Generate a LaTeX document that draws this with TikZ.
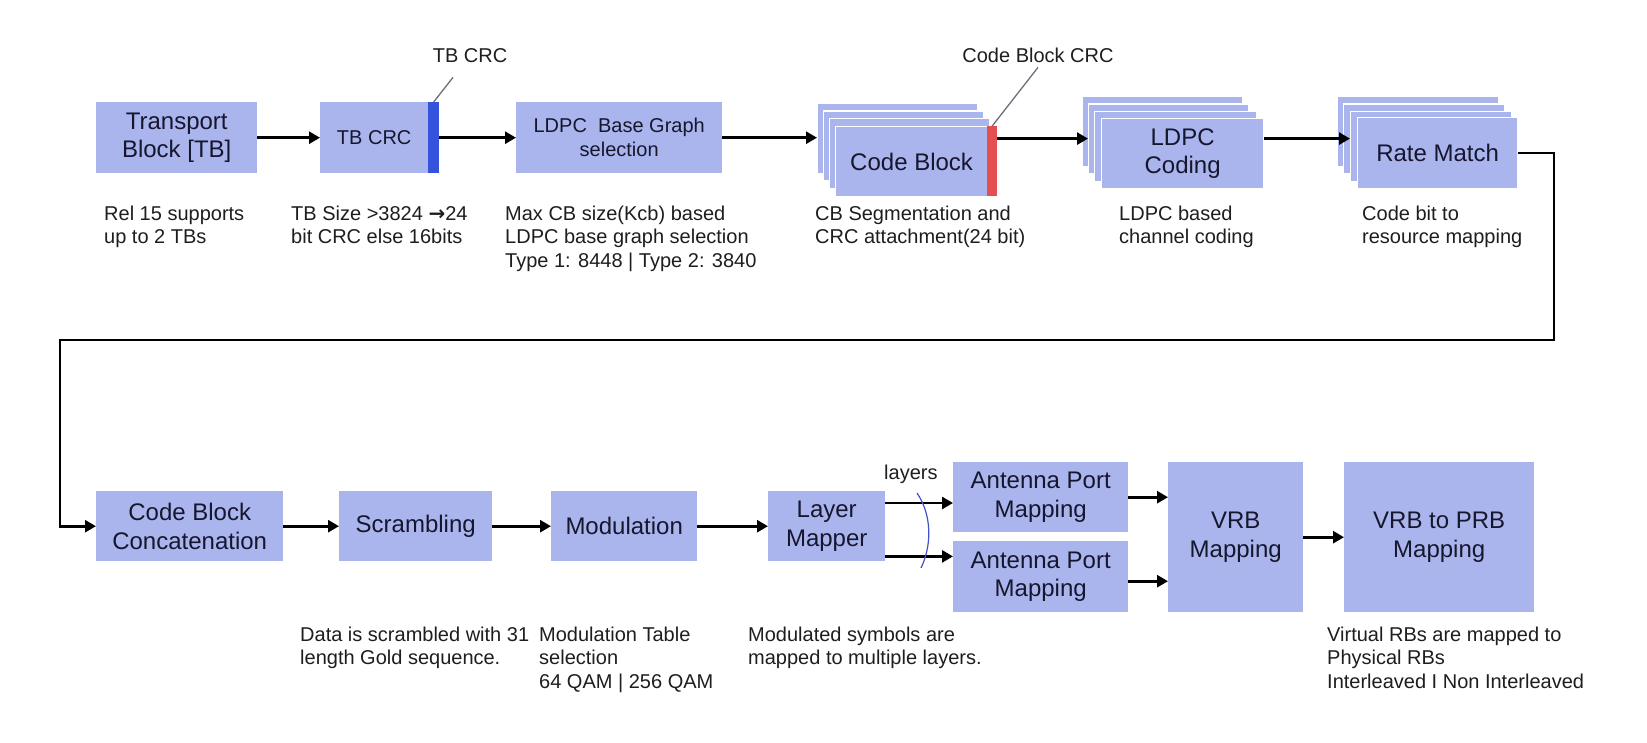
\documentclass[tikz,border=0pt]{standalone}
\usepackage{fontspec}
\setmainfont{Liberation Sans}
\newfontfamily\djv{DejaVu Sans}
\usetikzlibrary{arrows.meta,calc}
\definecolor{boxblue}{RGB}{170,181,238}
\definecolor{crcblue}{RGB}{52,82,220}
\definecolor{crcred}{RGB}{228,80,80}
\definecolor{leadgray}{RGB}{110,110,125}
\definecolor{boxtxt}{RGB}{22,22,45}
\definecolor{notetxt}{RGB}{30,30,30}
\definecolor{arcblue}{RGB}{70,80,200}
\newcommand\bxfont{\fontsize{24}{28.5}\selectfont}
\newcommand\sbxfont{\fontsize{20}{24}\selectfont}
\newcommand\ntfont{\fontsize{20}{23.5}\selectfont}
\begin{document}
\begin{tikzpicture}[x=1pt,y=-1pt,
  blk/.style={fill=boxblue, anchor=north west, inner sep=0pt, align=center, font=\bxfont, text=boxtxt},
  lyr/.style={blk, draw=white, line width=1.2pt},
  crcstrip/.style={anchor=north west, inner sep=0pt},
  wire/.style={line width=2.6pt, black},
  flowarrow/.style={wire, -{Triangle[length=11pt,width=12pt]}},
  note/.style={anchor=north west, inner sep=0pt, align=left, font=\ntfont, text=notetxt},
  lbl/.style={inner sep=0pt, font=\ntfont, text=notetxt},
  lead/.style={leadgray, line width=1.3pt},
]
\fill[white] (0,0) rectangle (1647,743);
\useasboundingbox (0,0) rectangle (1647,743);

% ---------- top row ----------
\node[blk, minimum width=161pt, minimum height=71pt] (tb) at (96,102) {Transport\\Block [TB]};
\node[blk, font=\sbxfont, minimum width=108pt, minimum height=71pt] (tbcrc) at (320,102) {TB CRC};
\node[crcstrip, fill=crcblue, minimum width=11pt, minimum height=71pt] (tbstrip) at (428,102) {};
\node[blk, font=\sbxfont, minimum width=206pt, minimum height=71pt] (ldpcb) at (516,102) {LDPC\ \ Base Graph\\selection};

\node[lyr, minimum width=160pt, minimum height=70pt] (cb1) at (817,103) {};
\node[lyr, minimum width=160pt, minimum height=70pt] (cb2) at (823,110.5) {};
\node[lyr, minimum width=160pt, minimum height=70pt] (cb3) at (829,118) {};
\node[lyr, minimum width=152pt, minimum height=70pt] (cb4) at (835,126) {Code Block};
\node[crcstrip, fill=crcred, minimum width=10pt, minimum height=70pt] (cbstrip) at (987,126) {};

\node[lyr, minimum width=160pt, minimum height=70pt] (lc1) at (1082,96) {};
\node[lyr, minimum width=160pt, minimum height=70pt] (lc2) at (1088,103.5) {};
\node[lyr, minimum width=162pt, minimum height=70pt] (lc3) at (1094,111) {};
\node[lyr, minimum width=162pt, minimum height=70pt] (lc4) at (1101,118) {LDPC\\Coding};

\node[lyr, minimum width=161pt, minimum height=70pt] (rm1) at (1337,96) {};
\node[lyr, minimum width=161pt, minimum height=70pt] (rm2) at (1343,103.5) {};
\node[lyr, minimum width=161pt, minimum height=70pt] (rm3) at (1350,111) {};
\node[lyr, minimum width=160pt, minimum height=71pt] (rm4) at (1357,117) {Rate Match};

\node[lbl, anchor=base] (tblabel) at (470,63) {TB CRC};
\node[lbl, anchor=base] (cblabel) at (1038,63) {Code Block CRC};
\draw[lead] (tbstrip.north) -- ([xshift=-17pt,yshift=-14pt]tblabel.south);
\draw[lead] (cbstrip.north) -- ([yshift=-4pt]cblabel.south);

\draw[flowarrow] (tb.east) -- (tbcrc.west);
\draw[flowarrow] (tbstrip.east) -- (ldpcb.west);
\draw[flowarrow] (ldpcb.east) -- (ldpcb.east -| cb1.west);
\draw[flowarrow] (cbstrip.east |- cb1.west) -- (lc2.west |- cb1.west);
\draw[flowarrow] (lc4.east |- cb1.west) -- (rm3.west |- cb1.west);

\node[note] (n1) at (104,203.5) {\strut Rel 15 supports\\up to 2 TBs};
\node[note] (n2) at (291,203.5) {\strut TB Size >3824 {\djv\bfseries →}24\\bit CRC else 16bits};
\node[note] (n3) at (505,203.5) {\strut Max CB size(Kcb) based\\LDPC base graph selection\\Type 1: 8448 | Type 2: 3840};
\node[note] (n4) at (815,203.5) {\strut CB Segmentation and\\CRC attachment(24 bit)};
\node[note] (n5) at (1119,203.5) {\strut LDPC based\\channel coding};
\node[note] (n6) at (1362,203.5) {\strut Code bit to\\resource mapping};

% ---------- bottom row ----------
\node[blk, minimum width=187pt, minimum height=70pt] (cbc) at (96,491) {Code Block\\Concatenation};
\node[blk, minimum width=153pt, minimum height=70pt] (scr) at (339,491) {Scrambling};
\node[blk, minimum width=146pt, minimum height=70pt] (mod) at (551,491) {Modulation};
\node[blk, minimum width=117pt, minimum height=70pt] (lm) at (768,491) {Layer\\Mapper};
\node[blk, minimum width=175pt, minimum height=70pt] (apm1) at (953,462) {Antenna Port\\Mapping};
\node[blk, minimum width=175pt, minimum height=71pt] (apm2) at (953,541) {Antenna Port\\Mapping};
\node[blk, minimum width=135pt, minimum height=150pt] (vrb) at (1168,462) {VRB\\Mapping};
\node[blk, minimum width=190pt, minimum height=150pt] (prb) at (1344,462) {VRB to PRB\\Mapping};

% feedback connector
\coordinate (r1) at (1554,340);
\coordinate (r2) at (60,340);
\draw[flowarrow] (rm4.east) -| (r1) -- (r2) |- (cbc.west);

\draw[flowarrow] (cbc.east) -- (scr.west);
\draw[flowarrow] (scr.east) -- (mod.west);
\draw[flowarrow] (mod.east) -- (lm.west);
\coordinate (lo1) at ($(lm.north east)+(0,12)$);
\coordinate (lo2) at ($(lm.south east)+(0,-5)$);
\draw[flowarrow] (lo1) -- (lo1 -| apm1.west);
\draw[flowarrow] (lo2) -- (lo2 -| apm2.west);
\draw[flowarrow] (apm1.east) -- (apm1.east -| vrb.west);
\coordinate (a2o) at ($(apm2.east)+(0,4.5)$);
\draw[flowarrow] (a2o) -- (a2o -| vrb.west);
\draw[flowarrow] (vrb.east) -- (prb.west);

\coordinate (arcA) at (917,493);
\coordinate (arcB) at (921,568);
\draw[arcblue, line width=1.2pt] (arcA) .. controls (932,515) and (932,545) .. (arcB);
\node[lbl, anchor=base west] (layerslbl) at (884,479) {layers};

\node[note] (n7) at (300,624.5) {\strut Data is scrambled with 31\\length Gold sequence.};
\node[note] (n8) at (539,624.5) {\strut Modulation Table\\selection\\64 QAM | 256 QAM};
\node[note] (n9) at (748,624.5) {\strut Modulated symbols are\\mapped to multiple layers.};
\node[note] (n10) at (1327,624.5) {\strut Virtual RBs are mapped to\\Physical RBs\\Interleaved I Non Interleaved};
\end{tikzpicture}
\end{document}
